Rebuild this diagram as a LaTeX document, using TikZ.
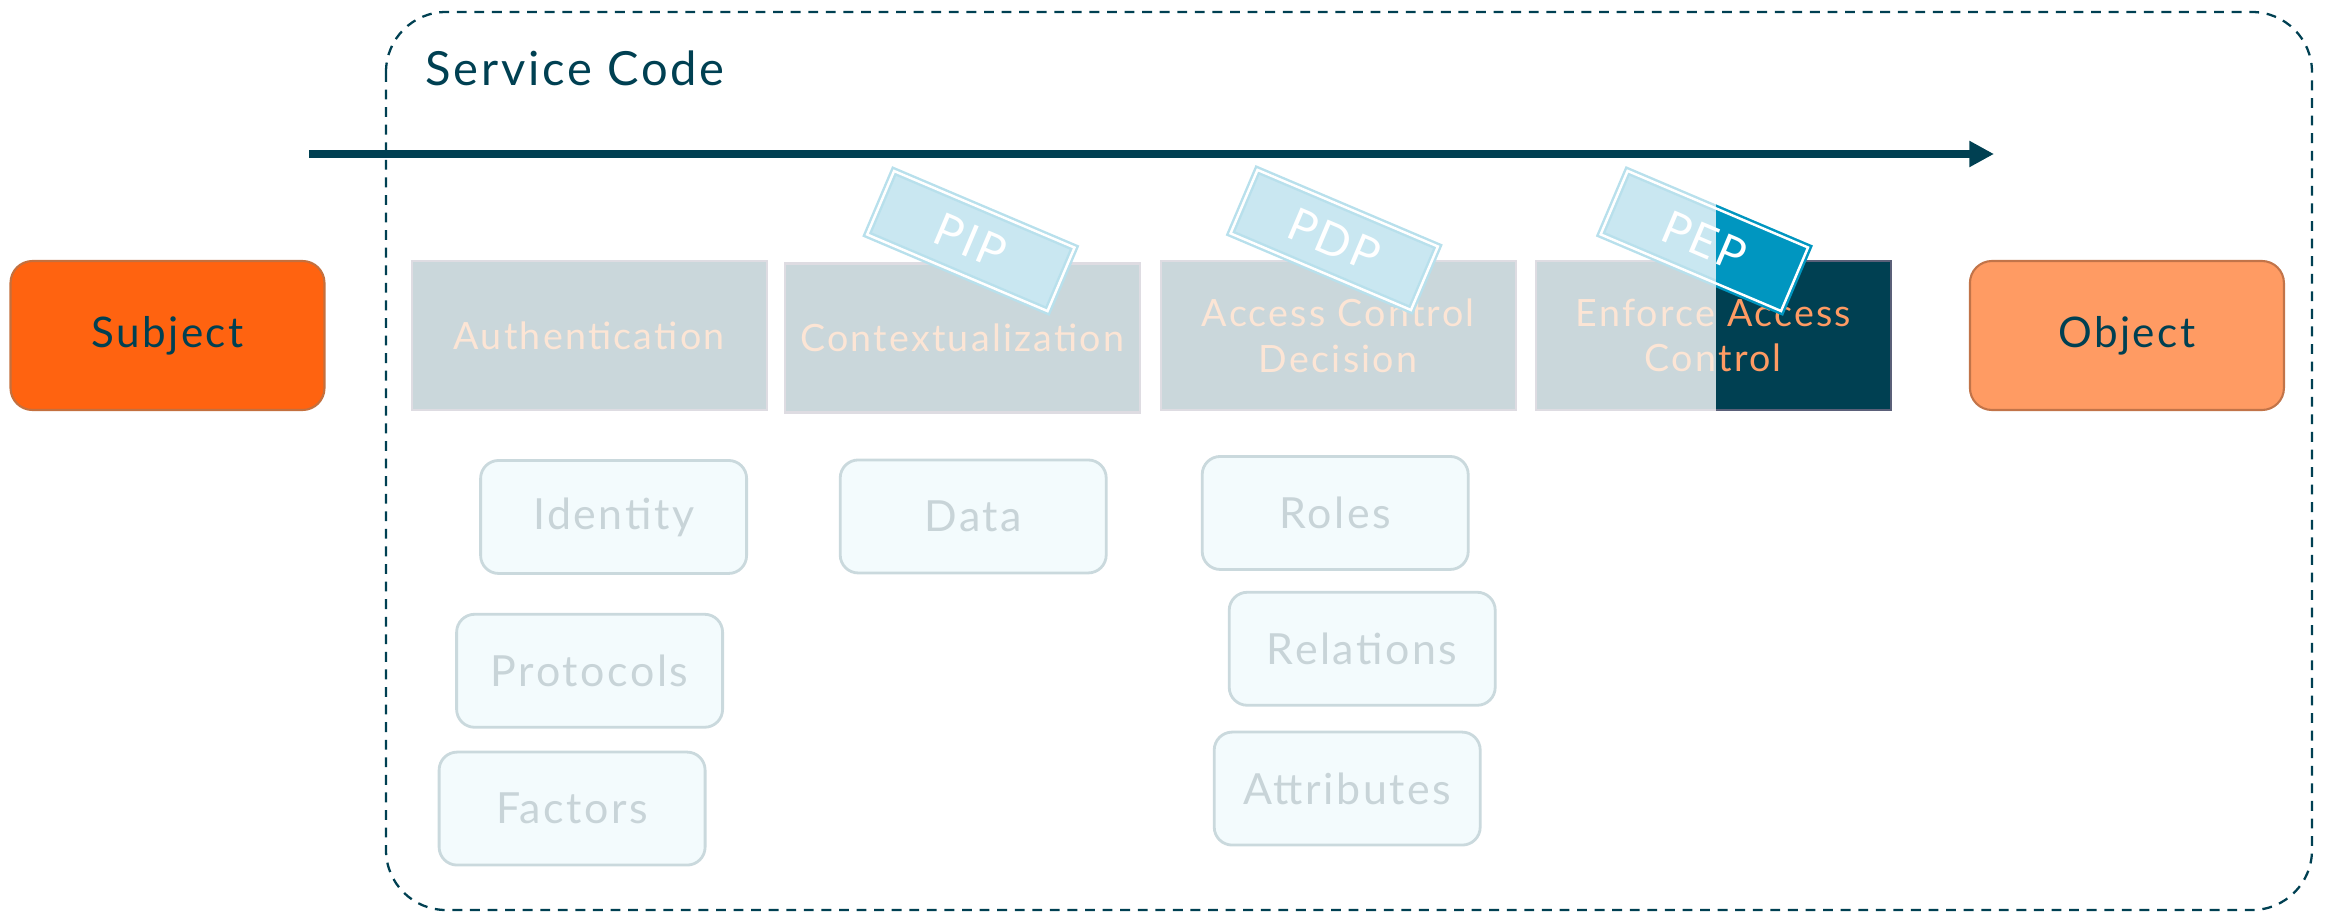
\documentclass[tikz,border=0pt]{standalone}
\usepackage{fontspec}
\setmainfont{Lato}[LetterSpace=6]
\usetikzlibrary{positioning,arrows.meta}
\definecolor{deepteal}{HTML}{004052}
\definecolor{subjfill}{HTML}{FF6310}
\definecolor{subjedge}{HTML}{C4703E}
\definecolor{objfill}{HTML}{FF9B63}
\definecolor{objedge}{HTML}{C27449}
\definecolor{stepfill}{HTML}{CAD7DB}
\definecolor{stepedge}{HTML}{DEDCE2}
\definecolor{steptext}{HTML}{FCE5D5}
\definecolor{hotedge}{HTML}{5B6079}
\definecolor{itemfill}{HTML}{F3FBFD}
\definecolor{itemedge}{HTML}{CAD9DD}
\definecolor{itemtext}{HTML}{C8D4D8}
\definecolor{tagfill}{HTML}{C9E7F1}
\definecolor{tagedge}{HTML}{B8E0EC}
\definecolor{tagblue}{HTML}{0096C0}
\tikzset{
  endpoint/.style={rounded corners=0.22cm,minimum width=3.14cm,minimum height=1.49cm,
    line width=0.6pt,text=deepteal,font=\fontsize{12}{14}\selectfont},
  stepbox/.style={draw=stepedge,fill=stepfill,text=steptext,minimum width=3.55cm,
    minimum height=1.49cm,align=center,line width=0.6pt,font=\fontsize{10.7}{13}\selectfont},
  hotstep/.style={stepbox,draw=hotedge,fill=deepteal,text=objfill},
  itembox/.style={draw=itemedge,fill=itemfill,text=itemtext,rounded corners=0.18cm,
    minimum width=2.66cm,minimum height=1.13cm,line width=0.8pt,font=\fontsize{12.2}{14}\selectfont},
  tag/.style={rotate=-23,fill=tagfill,draw=tagedge,double=white,double distance=0.7pt,
    line width=0.7pt,minimum width=1.96cm,minimum height=0.69cm,inner sep=0pt,
    text=white,font=\fontsize{13}{15}\selectfont},
  hottag/.style={tag,fill=tagblue,draw=tagblue}
}
\begin{document}
\begin{tikzpicture}
      \useasboundingbox (0,0) rectangle (23.28,-9.15);
      \draw[deepteal,line width=0.65pt,dash pattern=on 2.8pt off 2.2pt,rounded corners=0.6cm]
        (3.86,-0.12) rectangle (23.12,-9.10);
      \node[anchor=west,text=deepteal,font=\fontsize{13.4}{16}\selectfont] (title) at (4.13,-0.68) {Service Code};

      \coordinate (flowstart) at (3.09,-1.54);
      \coordinate (flowend) at (19.94,-1.54);
      \draw[deepteal,line width=2pt,-{Triangle[length=7pt,width=7pt]}] (flowstart) -- (flowend);

      \node[endpoint,draw=subjedge,fill=subjfill] (subject) at (1.675,-3.355) {Subject};
      \node[stepbox,right=0.85cm of subject] (auth) {Authentication};
      \node[stepbox,right=0.16cm of auth,yshift=-0.025cm] (ctx) {Contextualization};
      \node[stepbox,right=0.16cm of auth,xshift=3.76cm] (acd) {Access Control\\Decision};
      \node[stepbox,right=0.18cm of acd] (enf) {Enforce Access\\Control};
      \node[endpoint,draw=objedge,fill=objfill,right=0.77cm of enf] (object) {Object};

      \node[tag] (pip) at ([shift={(0.086,0.214)}]ctx.north) {PIP};
      \node[tag] (pdp) at ([shift={(-0.04,0.20)}]acd.north) {PDP};
      \node[tag] (pep) at ([shift={(-0.09,0.19)}]enf.north) {PEP};

      \begin{scope}
        \clip (17.16,-0.9) rectangle (19.3,-4.5);
        \node[hotstep] (enfhot) at (enf) {Enforce Access\\Control};
        \node[hottag] (pephot) at (pep) {PEP};
      \end{scope}

      \node[itembox,below=0.48cm of auth,xshift=0.245cm] (identity) {Identity};
      \node[itembox,below=0.38cm of identity,xshift=-0.24cm] (protocols) {Protocols};
      \node[itembox,below=0.22cm of protocols,xshift=-0.175cm] (factors) {Factors};
      \node[itembox,below=0.45cm of ctx,xshift=0.11cm] (data) {Data};
      \node[itembox,below=0.44cm of acd,xshift=-0.03cm] (roles) {Roles};
      \node[itembox,below=0.20cm of roles,xshift=0.27cm] (relations) {Relations};
      \node[itembox,below=0.24cm of relations,xshift=-0.15cm] (attributes) {Attributes};
    \end{tikzpicture}
\end{document}
